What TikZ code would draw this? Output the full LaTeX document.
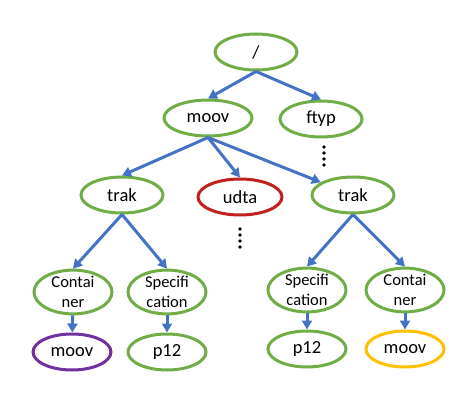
\documentclass[tikz,border=0pt]{standalone}
\usepackage{fontspec}
\setmainfont{Carlito}
\usetikzlibrary{shapes.geometric,arrows.meta}
\definecolor{boxgreen}{RGB}{112,173,71}
\definecolor{linkblue}{RGB}{68,114,196}
\definecolor{boxred}{RGB}{192,32,32}
\definecolor{boxpurple}{RGB}{112,48,160}
\definecolor{boxgold}{RGB}{255,192,0}

\begin{document}
\begin{tikzpicture}[x=1pt,y=-1pt,
    box/.style={ellipse, draw=boxgreen, line width=3pt, minimum width=82pt, minimum height=36pt, inner sep=0pt, font=\fontsize{18.5}{21}\selectfont},
    twoline/.style={box, minimum width=78pt, minimum height=40pt, align=center, font=\fontsize{16.5}{19.5}\selectfont},
    link/.style={draw=linkblue, line width=3pt, -{Triangle[length=9pt,width=10pt]}},
    dot/.style={fill=black, circle, inner sep=0pt, minimum size=3.6pt}]
    \useasboundingbox (0,0) rectangle (464,404);
    % Draw the boxes
    \node[box] (root) at (256,52) {/};
    \node[box, minimum width=88pt] (moov) at (208,118) {moov};
    \node[box] (ftyp) at (321,119) {ftyp};
    \node[box] (trakL) at (122,195) {trak};
    \node[box, draw=boxred, minimum width=84pt] (udta) at (240,197) {udta};
    \node[box] (trakR) at (353,195) {trak};
    \node[twoline] (contL) at (73,292) {Contai\\ner};
    \node[twoline] (specL) at (167,292) {Specifi\\cation};
    \node[twoline] (specR) at (307,290) {Specifi\\cation};
    \node[twoline] (contR) at (405,290) {Contai\\ner};
    \node[box, draw=boxpurple, minimum width=78pt] (moovL) at (72,352) {moov};
    \node[box, minimum width=78pt] (p12L) at (167,352) {p12};
    \node[box, minimum width=78pt] (p12R) at (307,349) {p12};
    \node[box, draw=boxgold, minimum width=78pt] (moovR) at (405,349) {moov};
    % Draw the links
    \draw[link] (root.south) -- (moov.north);
    \draw[link] (root.south) -- (ftyp.north);
    \draw[link] (moov.south) -- (trakL.north);
    \draw[link] (moov.south) -- (udta.north);
    \draw[link] (moov.south) -- (trakR);
    \draw[link] (trakL.south) -- (contL.north);
    \draw[link] (trakL.south) -- (specL.north);
    \draw[link] (trakR.south) -- (specR.north);
    \draw[link] (trakR.south) -- (contR.north);
    \draw[link] (contL) -- (moovL);
    \draw[link] (specL) -- (p12L);
    \draw[link] (specR) -- (p12R);
    \draw[link] (contR) -- (moovR);
    % Draw the dots
    \foreach \y in {147,153,159,165} {
        \node[dot] at (324,\y) {};
    }
    \foreach \y in {229,235,241,247} {
        \node[dot] at (240,\y) {};
    }
\end{tikzpicture}
\end{document}
